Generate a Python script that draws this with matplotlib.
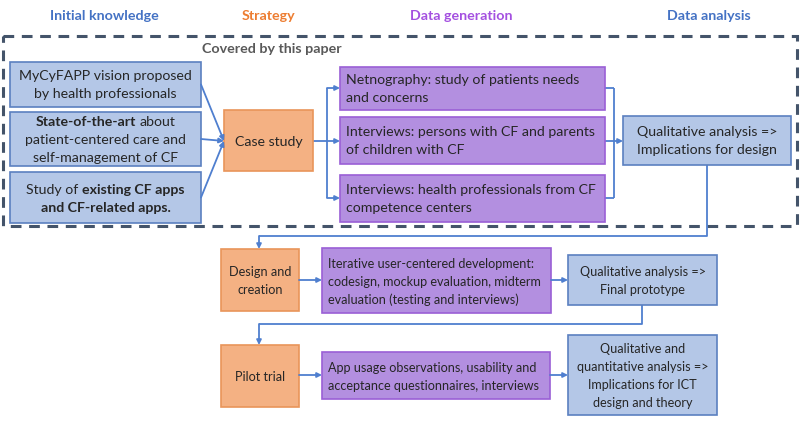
import matplotlib.pyplot as plt
from matplotlib.patches import Rectangle

# Texts of the diagram
headers = ["Initial knowledge", "Strategy", "Data generation", "Data analysis"]
header_colors = ["#4472c4", "#ed7d31", "#a450e0", "#4472c4"]
covered_label = "Covered by this paper"

knowledge = [
    [[("MyCyFAPP vision proposed", False)], [("by health professionals", False)]],
    [[("State-of-the-art", True), ("about", False)], [("patient-centered care and", False)],
     [("self-management of CF", False)]],
    [[("Study of", False), ("existing CF apps", True)], [("and CF-related apps.", True)]],
]
strategies = ["Case study", "Design and\ncreation", "Pilot trial"]
generation = [
    "Netnography: study of patients needs\nand concerns",
    "Interviews: persons with CF and parents\nof children with CF",
    "Interviews: health professionals from CF\ncompetence centers",
    "Iterative user-centered development:\ncodesign, mockup evaluation, midterm\nevaluation (testing and interviews)",
    "App usage observations, usability and\nacceptance questionnaires, interviews",
]
analysis = [
    "Qualitative analysis =>\nImplications for design",
    "Qualitative analysis =>\nFinal prototype",
    "Qualitative and\nquantitative analysis =>\nImplications for ICT\ndesign and theory",
]

FONT = "Lato"
FS_TOP = 10.2   # text inside the dashed frame
FS_LOW = 9.1    # text in the lower rows
FS_HEAD = 10.3
TXT = "#262626"
BLUE_FC, BLUE_EC = "#b4c7e7", "#5b80c0"
ORANGE_FC, ORANGE_EC = "#f4b183", "#e9955a"
PURPLE_FC, PURPLE_EC = "#b38fe0", "#9a5fd6"
LINE = "#4f7fcf"

fig = plt.figure(figsize=(8, 4.21), dpi=100)
ax = fig.add_axes([0, 0, 1, 1])
ax.set_xlim(0, 800)
ax.set_ylim(421, 0)
ax.axis('off')
renderer = fig.canvas.get_renderer()


def box(x0, y0, x1, y1, fc, ec):
    ax.add_patch(Rectangle((x0, y0), x1 - x0, y1 - y0, fc=fc, ec=ec, lw=1.2, zorder=2))


def text_width(s, bold, fs):
    t = ax.text(0, 0, s, fontsize=fs, family=FONT, weight='bold' if bold else 'normal')
    w = t.get_window_extent(renderer).width
    t.remove()
    return w


def rich_lines(lines, x, yc, fs, ha='center', lh=18):
    space_w = text_width("x x", False, fs) - text_width("xx", False, fs)
    y = yc - (len(lines) - 1) * lh / 2
    for segs in lines:
        widths = [text_width(s, b, fs) for s, b in segs]
        total = sum(widths) + space_w * (len(segs) - 1)
        xs = x - total / 2 if ha == 'center' else x
        for (s, b), w in zip(segs, widths):
            ax.text(xs, y, s, fontsize=fs, family=FONT, weight='bold' if b else 'normal',
                    color=TXT, ha='left', va='center', zorder=3)
            xs += w + space_w
        y += lh


def label(s, x, y, fs, ha='center'):
    rich_lines([[(ln, False)] for ln in s.split("\n")], x, y, fs, ha=ha)


def arrow(x0, y0, x1, y1):
    ax.annotate("", xy=(x1, y1), xytext=(x0, y0),
                arrowprops=dict(arrowstyle='-|>', color=LINE, lw=1.3, mutation_scale=7,
                                shrinkA=0, shrinkB=0), zorder=4)


def line(xs, ys):
    ax.plot(xs, ys, color=LINE, lw=1.3, zorder=1, solid_capstyle='butt')


# headers
for s, c, x in zip(headers, header_colors, [104, 268, 461, 709]):
    ax.text(x, 16, s, fontsize=FS_HEAD, family=FONT, weight='bold', color=c,
            ha='center', va='center')

# dashed frame
ax.add_patch(Rectangle((3, 36), 794, 190, fill=False, ec="#44546a", lw=2.2,
                       ls=(0, (3.5, 2.5)), zorder=1))
ax.text(202, 49, covered_label, fontsize=FS_HEAD, family=FONT, weight='bold',
        color="#595959", ha='left', va='center')

# initial knowledge boxes
kb = [(62, 107), (112, 166), (172, 223)]
for (y0, y1), lines in zip(kb, knowledge):
    box(10, y0, 201, y1, BLUE_FC, BLUE_EC)
    rich_lines(lines, 105.5, (y0 + y1) / 2 + 1, FS_TOP)
    arrow(201, (y0 + y1) / 2, 224, 141)

# strategy boxes
sb = [(224, 110, 313, 171), (221, 249, 299, 311), (221, 345, 299, 407)]
for i, ((x0, y0, x1, y1), s) in enumerate(zip(sb, strategies)):
    box(x0, y0, x1, y1, ORANGE_FC, ORANGE_EC)
    label(s, (x0 + x1) / 2, (y0 + y1) / 2 + 1, FS_TOP if i == 0 else FS_LOW)

# data generation boxes
gb = [(340, 67, 605, 110), (340, 117, 605, 164), (340, 175, 605, 222),
      (322, 248, 551, 313), (322, 352, 550, 399)]
for i, ((x0, y0, x1, y1), s) in enumerate(zip(gb, generation)):
    box(x0, y0, x1, y1, PURPLE_FC, PURPLE_EC)
    label(s, x0 + 6, (y0 + y1) / 2 + 1, FS_TOP if i < 3 else FS_LOW, ha='left')

# data analysis boxes
ab = [(623, 116, 791, 165), (568, 255, 717, 305), (568, 335, 717, 415)]
for i, ((x0, y0, x1, y1), s) in enumerate(zip(ab, analysis)):
    box(x0, y0, x1, y1, BLUE_FC, BLUE_EC)
    label(s, (x0 + x1) / 2, (y0 + y1) / 2 + 1, FS_TOP if i == 0 else FS_LOW)

# case study -> data generation
line([313, 327], [141, 141])
line([327, 327], [88, 198])
for y in [88, 141, 198]:
    arrow(327, y, 340, y)

# data generation -> analysis
for y in [88, 141, 198]:
    line([605, 614], [y, y])
line([614, 614], [88, 198])
arrow(614, 141, 623, 141)

# analysis -> design and creation
line([707, 707, 259], [165, 236, 236])
arrow(259, 236, 259, 249)
arrow(299, 280, 322, 280)
arrow(551, 280, 568, 280)

# final prototype -> pilot trial
line([642, 642, 259], [305, 324, 324])
arrow(259, 324, 259, 345)
arrow(299, 375, 322, 375)
arrow(550, 375, 568, 375)

fig.savefig("out.png", dpi=100)
